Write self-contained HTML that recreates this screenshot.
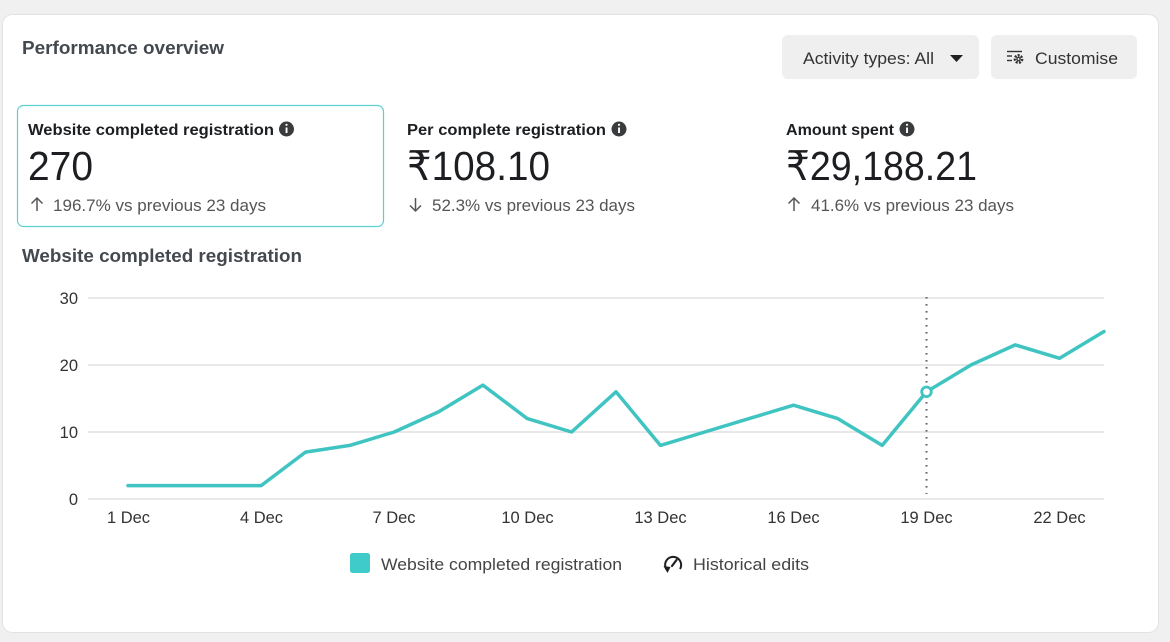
<!DOCTYPE html>
<html><head><meta charset="utf-8"><style>
html,body{margin:0;padding:0;background:#f0f0f0;}
svg{display:block;}
text{font-family:"Liberation Sans",sans-serif;}
</style></head><body>
<svg width="1170" height="642" viewBox="0 0 1170 642" xmlns="http://www.w3.org/2000/svg">
<rect x="0" y="0" width="1170" height="642" fill="#f0f0f0"/>
<rect x="2.5" y="14.5" width="1156" height="618" rx="10" fill="#ffffff" stroke="#e2e2e2"/>

<text x="22" y="54" font-size="18" font-weight="bold" fill="#444950" textLength="202" lengthAdjust="spacingAndGlyphs">Performance overview</text>

<!-- buttons -->
<rect x="782" y="35" width="197" height="44" rx="6" fill="#efefef"/>
<text x="803" y="64" font-size="17" fill="#333" textLength="131" lengthAdjust="spacingAndGlyphs">Activity types: All</text>
<path d="M950 55 L963 55 L956.5 62 Z" fill="#222"/>
<rect x="991" y="35" width="146" height="44" rx="6" fill="#efefef"/>
<g stroke="#333" stroke-width="1.4" fill="none">
<line x1="1007" y1="51.5" x2="1022" y2="51.5"/>
<line x1="1007" y1="56" x2="1012" y2="56"/>
<line x1="1007" y1="60.5" x2="1012" y2="60.5"/>
</g>
<circle cx="1018.5" cy="59" r="3.6" fill="none" stroke="#333" stroke-width="2.6" stroke-dasharray="2 1.2"/>
<circle cx="1018.5" cy="59" r="2.2" fill="#333"/>
<circle cx="1018.5" cy="59" r="1" fill="#efefef"/>
<text x="1035" y="64" font-size="17" fill="#333" textLength="83" lengthAdjust="spacingAndGlyphs">Customise</text>

<!-- KPI 1 selected -->
<rect x="17.5" y="105.5" width="366" height="121" rx="6" fill="#fff" stroke="#5ccfd0" stroke-width="1.2"/>
<text x="28" y="135" font-size="16" font-weight="bold" fill="#1c1e21" textLength="246" lengthAdjust="spacingAndGlyphs">Website completed registration</text>
<circle cx="286.5" cy="129" r="7.5" fill="#3a3b3c"/>
<rect x="285.6" y="127.5" width="1.9" height="5.5" fill="#fff"/><circle cx="286.5" cy="124.8" r="1.1" fill="#fff"/>
<text x="28" y="180" font-size="41" fill="#1c1e21" textLength="65" lengthAdjust="spacingAndGlyphs">270</text>
<g stroke="#555" stroke-width="1.5" fill="none"><line x1="37" y1="198" x2="37" y2="211"/><path d="M31.5 203.5 L37 198 L42.5 203.5"/></g>
<text x="53" y="211" font-size="16.5" fill="#555" textLength="213" lengthAdjust="spacingAndGlyphs">196.7% vs previous 23 days</text>

<!-- KPI 2 -->
<text x="407" y="135" font-size="16" font-weight="bold" fill="#1c1e21" textLength="199" lengthAdjust="spacingAndGlyphs">Per complete registration</text>
<circle cx="619" cy="129" r="7.5" fill="#3a3b3c"/>
<rect x="618.1" y="127.5" width="1.9" height="5.5" fill="#fff"/><circle cx="619" cy="124.8" r="1.1" fill="#fff"/>
<text x="407" y="180" font-size="41" fill="#1c1e21" textLength="143" lengthAdjust="spacingAndGlyphs">₹108.10</text>
<g stroke="#555" stroke-width="1.5" fill="none"><line x1="415.5" y1="198" x2="415.5" y2="211"/><path d="M410 205.5 L415.5 211 L421 205.5"/></g>
<text x="432" y="211" font-size="16.5" fill="#555" textLength="203" lengthAdjust="spacingAndGlyphs">52.3% vs previous 23 days</text>

<!-- KPI 3 -->
<text x="786" y="135" font-size="16" font-weight="bold" fill="#1c1e21" textLength="108" lengthAdjust="spacingAndGlyphs">Amount spent</text>
<circle cx="907" cy="129" r="7.5" fill="#3a3b3c"/>
<rect x="906.1" y="127.5" width="1.9" height="5.5" fill="#fff"/><circle cx="907" cy="124.8" r="1.1" fill="#fff"/>
<text x="786" y="180" font-size="41" fill="#1c1e21" textLength="191" lengthAdjust="spacingAndGlyphs">₹29,188.21</text>
<g stroke="#555" stroke-width="1.5" fill="none"><line x1="794" y1="198" x2="794" y2="211"/><path d="M788.5 203.5 L794 198 L799.5 203.5"/></g>
<text x="811" y="211" font-size="16.5" fill="#555" textLength="203" lengthAdjust="spacingAndGlyphs">41.6% vs previous 23 days</text>

<!-- chart title -->
<text x="22" y="262" font-size="18" font-weight="bold" fill="#444950" textLength="280" lengthAdjust="spacingAndGlyphs">Website completed registration</text>

<!-- grid -->
<g stroke="#e0e0e0" stroke-width="1.5">
<line x1="88" y1="298" x2="1104" y2="298"/>
<line x1="88" y1="365" x2="1104" y2="365"/>
<line x1="88" y1="432" x2="1104" y2="432"/>
<line x1="88" y1="499" x2="1104" y2="499"/>
</g>
<g font-size="16.5" fill="#333" text-anchor="end">
<text x="78" y="304">30</text>
<text x="78" y="371">20</text>
<text x="78" y="438">10</text>
<text x="78" y="505">0</text>
</g>
<g font-size="16.5" fill="#333" text-anchor="middle">
<text x="128.5" y="523">1 Dec</text>
<text x="261.5" y="523">4 Dec</text>
<text x="394" y="523">7 Dec</text>
<text x="527.5" y="523">10 Dec</text>
<text x="660.5" y="523">13 Dec</text>
<text x="793.5" y="523">16 Dec</text>
<text x="926.5" y="523">19 Dec</text>
<text x="1059.5" y="523">22 Dec</text>
</g>

<line x1="926.5" y1="297" x2="926.5" y2="494" stroke="#666" stroke-width="2" stroke-dasharray="1.6 5.4"/>

<polyline fill="none" stroke="#40c4c2" stroke-width="3.5" stroke-linejoin="round" stroke-linecap="round"
points="128,485.6 172.4,485.6 216.7,485.6 261.1,485.6 305.5,452.1 349.8,445.4 394.2,432 438.5,411.9 482.9,385.1 527.3,418.6 571.6,432 616,391.8 660.4,445.4 704.7,432 749.1,418.6 793.5,405.2 837.8,418.6 882.2,445.4 926.5,391.8 970.9,365 1015.3,344.9 1059.6,358.3 1104,331.5"/>
<circle cx="926.5" cy="391.8" r="4.8" fill="#fff" stroke="#40c4c2" stroke-width="2.8"/>

<!-- legend -->
<rect x="350" y="553" width="20" height="20" rx="2.5" fill="#3ecbc9"/>
<text x="381" y="570" font-size="17" fill="#444" textLength="241" lengthAdjust="spacingAndGlyphs">Website completed registration</text>
<g fill="none" stroke="#1c1e21" stroke-width="2">
<path d="M667 570 A8 8 0 1 1 680 569"/>
</g>
<path d="M663.5 566 L667.5 573 L670.5 567 Z" fill="#1c1e21"/>
<line x1="672" y1="566" x2="676.5" y2="560" stroke="#1c1e21" stroke-width="2.2" stroke-linecap="round"/>
<text x="693" y="570" font-size="17" fill="#444" textLength="116" lengthAdjust="spacingAndGlyphs">Historical edits</text>
</svg>
</body></html>
